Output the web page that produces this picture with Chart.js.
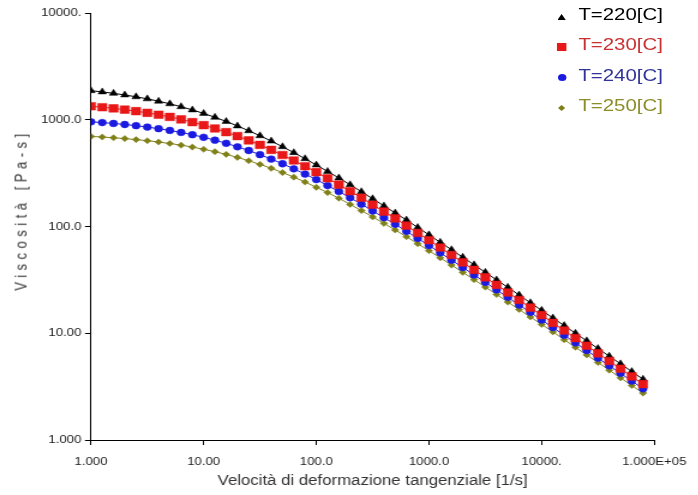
<!DOCTYPE html>
<html>
<head>
<meta charset="utf-8">
<script src="https://cdn.jsdelivr.net/npm/chart.js@4/dist/chart.umd.min.js"></script>
<style>
  html, body { margin: 0; padding: 0; background: #fff; overflow: hidden; }
  /* the reference is stretched sideways, so the whole chart is drawn narrower and scaled */
  #wrap { position: relative; width: 582px; height: 495px; transform: scaleX(1.2); transform-origin: 0 0; }
  #chart { display: block; }
  #ytitle {
    position: absolute; left: 17.5px; top: 210px;
    transform: translate(-50%, -50%) rotate(-90deg);
    white-space: nowrap; color: #333;
    font: 13px 'Liberation Sans', Arial, sans-serif; letter-spacing: 4.5px;
  }
  .lg-row { position: absolute; left: 0; white-space: nowrap; font: 17px 'Liberation Sans', Arial, sans-serif; line-height: 20px; }
  .lg-mk { position: absolute; }
</style>
</head>
<body>
<div id="wrap">
  <canvas id="chart" width="582" height="495" style="width:582px;height:495px"></canvas>
  <div id="ytitle">Viscosità [Pa-s]</div>
  <div id="legend"></div>
</div>
<script>
const shearRate = [1.000, 1.259, 1.585, 1.995, 2.512, 3.162, 3.981, 5.012, 6.310, 7.943,
    10.00, 12.59, 15.85, 19.95, 25.12, 31.62, 39.81, 50.12, 63.10, 79.43,
    100.0, 125.9, 158.5, 199.5, 251.2, 316.2, 398.1, 501.2, 631.0, 794.3,
    1000, 1259, 1585, 1995, 2512, 3162, 3981, 5012, 6310, 7943,
    10000, 12589, 15849, 19953, 25119, 31623, 39811, 50119, 63096, 79433];

const visc220 = [1872, 1823, 1768, 1707, 1641, 1569, 1492, 1410, 1325, 1236,
    1146, 1054, 964, 875, 789, 708, 631, 559, 492, 432,
    377, 328, 285, 246, 212, 182, 156, 134, 115, 97.9,
    83.5, 71.1, 60.6, 51.5, 43.8, 37.2, 31.6, 26.9, 22.8, 19.3,
    16.4, 13.9, 11.8, 10.0, 8.49, 7.19, 6.10, 5.17, 4.38, 3.71];
const visc230 = [1338, 1310, 1279, 1243, 1204, 1161, 1114, 1063, 1008, 950,
    890, 829, 766, 703, 641, 581, 522, 467, 415, 367,
    323, 283, 247, 214, 186, 160, 138, 119, 102, 87.0,
    74.4, 63.5, 54.1, 46.1, 39.2, 33.4, 28.4, 24.1, 20.5, 17.4,
    14.8, 12.5, 10.6, 9.01, 7.64, 6.48, 5.49, 4.65, 3.94, 3.34];
const visc240 = [957, 941, 923, 903, 880, 854, 825, 794, 760, 724,
    685, 644, 602, 558, 515, 471, 428, 387, 347, 310,
    275, 242, 213, 186, 162, 140, 121, 105, 90.1, 77.4,
    66.3, 56.7, 48.4, 41.3, 35.2, 30.0, 25.5, 21.7, 18.4, 15.7,
    13.3, 11.3, 9.59, 8.13, 6.90, 5.85, 4.96, 4.21, 3.57, 3.02];
const visc250 = [698, 689, 678, 666, 652, 636, 619, 599, 578, 555,
    529, 502, 474, 444, 413, 382, 351, 320, 290, 261,
    233, 208, 184, 161, 141, 123, 107, 92.8, 80.2, 69.0,
    59.3, 50.9, 43.5, 37.2, 31.8, 27.1, 23.1, 19.6, 16.7, 14.2,
    12.1, 10.3, 8.70, 7.39, 6.27, 5.32, 4.51, 3.82, 3.24, 2.75];

const seriesLabels = ['T=220[C]', 'T=230[C]', 'T=240[C]', 'T=250[C]'];
const seriesValues = [visc220, visc230, visc240, visc250];
const seriesColors = ['#000000', '#e81818', '#1a1ae0', '#80801a'];
const legendTextColors = ['#000000', '#c83232', '#32329b', '#8c8c28'];
const pointStyles = ['triangle', 'rect', 'circle', 'rectRot'];
const pointRadii = [4.0, 5.4, 3.4, 3.1];
const drawOrder = [2, 0, 1, 3];

const xTickValues = [1, 10, 100, 1000, 10000, 100000];
const xTickLabels = ['1.000', '10.00', '100.0', '1000.0', '10000.', '1.000E+05'];
const yTickValues = [1, 10, 100, 1000, 10000];
const yTickLabels = ['1.000', '10.00', '100.0', '1000.0', '10000.'];

Chart.defaults.font.family = "'Liberation Sans', Arial, sans-serif";

const datasets = seriesLabels.map((label, s) => ({
    label: label,
    data: shearRate.map((x, i) => ({ x: x, y: seriesValues[s][i] })),
    borderColor: seriesColors[s],
    backgroundColor: seriesColors[s],
    borderWidth: 1,
    pointStyle: pointStyles[s],
    pointRadius: pointRadii[s],
    pointBorderWidth: 0.5,
    pointBorderColor: seriesColors[s],
    pointBackgroundColor: seriesColors[s],
    order: drawOrder[s],
    tension: 0
}));

new Chart(document.getElementById('chart'), {
    type: 'line',
    data: { datasets: datasets },
    options: {
        responsive: false,
        animation: false,
        layout: { padding: { top: 13, right: 32, bottom: 0, left: 0 } },
        plugins: { legend: { display: false }, tooltip: { enabled: false } },
        scales: {
            x: {
                type: 'logarithmic',
                min: 1,
                max: 100000,
                afterBuildTicks: s => { s.ticks = xTickValues.map(v => ({ value: v })); },
                afterFit: s => { s.height = 55; },
                ticks: {
                    autoSkip: false, maxRotation: 0, padding: 10,
                    color: '#222', font: { size: 11 },
                    callback: (v, i) => xTickLabels[i]
                },
                grid: { drawOnChartArea: false, drawTicks: true, tickLength: 5, color: '#000' },
                border: { color: '#000', width: 1 },
                title: {
                    display: true,
                    text: 'Velocità di deformazione tangenziale [1/s]',
                    color: '#333', font: { size: 14 },
                    padding: { top: 0, bottom: 5 }
                }
            },
            y: {
                type: 'logarithmic',
                min: 1,
                max: 10000,
                afterBuildTicks: s => { s.ticks = yTickValues.map(v => ({ value: v })); },
                afterFit: s => { s.width = 75.8; },
                ticks: {
                    autoSkip: false, padding: 3,
                    color: '#222', font: { size: 11 },
                    callback: (v, i) => yTickLabels[i]
                },
                grid: { drawOnChartArea: false, drawTicks: true, tickLength: 5, color: '#000' },
                border: { color: '#000', width: 1 }
            }
        }
    }
});

// legend in the top right corner of the plot
const legend = document.getElementById('legend');
const markerCss = [
    'width:7px;height:6px;clip-path:polygon(50% 0,100% 100%,0 100%);',
    'width:8px;height:8px;',
    'width:7px;height:7px;border-radius:50%;',
    'width:6px;height:6px;clip-path:polygon(50% 0,100% 50%,50% 100%,0 50%);'
];
const markerSize = [[7, 6], [8, 8], [7, 7], [6, 6]];
seriesLabels.forEach((label, s) => {
    const cy = 15 + s * 30.3;
    const mk = document.createElement('div');
    mk.className = 'lg-mk';
    mk.style.cssText = markerCss[s] + 'background:' + seriesColors[s] + ';left:' + (468 - markerSize[s][0] / 2) + 'px;top:' + (cy + 2 - markerSize[s][1] / 2) + 'px;';
    legend.appendChild(mk);
    const row = document.createElement('div');
    row.className = 'lg-row';
    row.style.left = '482px';
    row.style.top = (cy - 10) + 'px';
    row.style.color = legendTextColors[s];
    row.textContent = label;
    legend.appendChild(row);
});
</script>
</body>
</html>
